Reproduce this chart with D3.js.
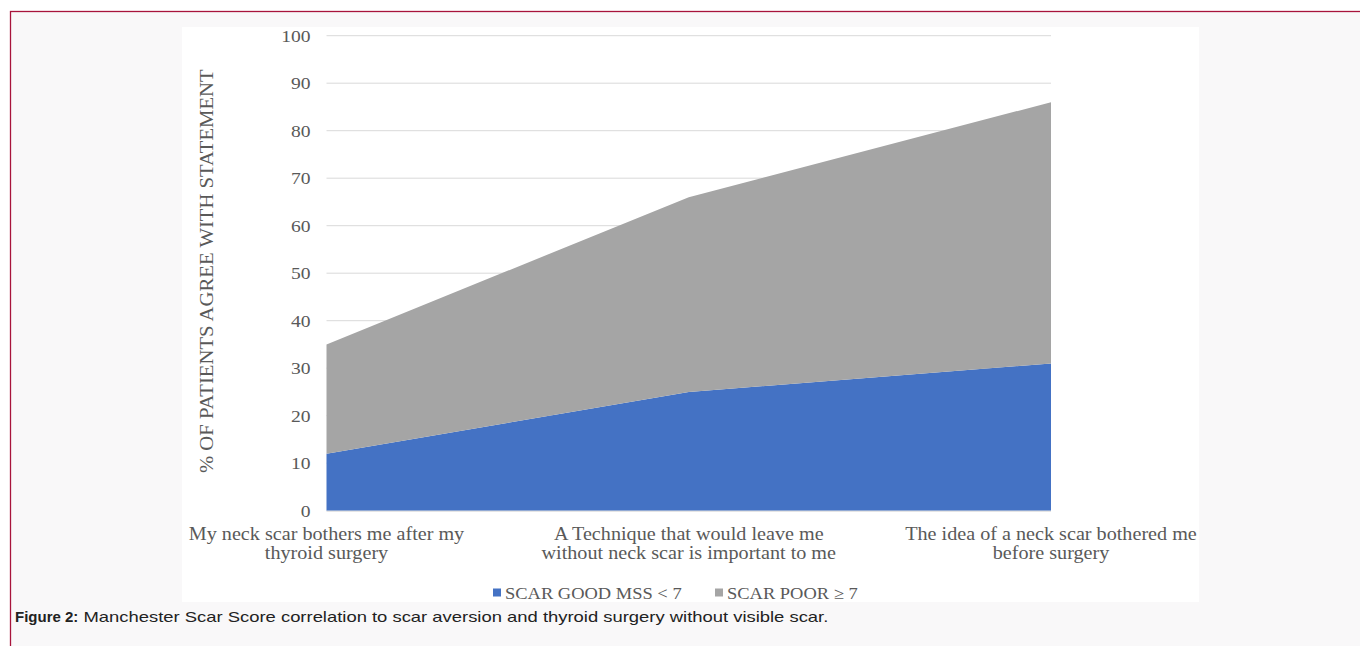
<!DOCTYPE html>
<html>
<head>
<meta charset="utf-8">
<script src="https://cdn.jsdelivr.net/npm/d3@7"></script>
<style>
  html, body { margin: 0; padding: 0; background: #ffffff; }
  svg { display: block; }
</style>
</head>
<body>
<svg id="chart" width="1360" height="646"></svg>
<script>
// Statements surveyed (x categories), split into two text lines each
const categories = [
  ["My neck scar bothers me after my", "thyroid surgery"],
  ["A Technique that would leave me", "without neck scar is important to me"],
  ["The idea of a neck scar bothered me", "before surgery"]
];
// Percentage of patients agreeing, by scar outcome (stacked)
const scarGood = [12, 25, 31];
const scarPoor = [23, 41, 55];
const seriesNames = ["SCAR GOOD MSS < 7", "SCAR POOR \u2265 7"];
const yTicks = [0, 10, 20, 30, 40, 50, 60, 70, 80, 90, 100];
const yTitle = "% OF PATIENTS AGREE WITH STATEMENT";
const captionBold = "Figure 2:";
const captionText = " Manchester Scar Score correlation to scar aversion and thyroid surgery without visible scar.";

const colors = ["#4472c4", "#a5a5a5"];
const serif = "'Liberation Serif', 'Times New Roman', serif";
const textColor = "#595959";
const widen = "scale(1.12,1)"; // the chart's serif type is set slightly wide

const svg = d3.select("#chart");

// framed panel
svg.append("rect").attr("x", 10.5).attr("y", 11.5).attr("width", 1360).attr("height", 646)
  .attr("fill", "#f9f8f9").attr("stroke", "#a8143c").attr("stroke-width", 1.3);

// white chart area
svg.append("rect").attr("x", 182).attr("y", 27).attr("width", 1017).attr("height", 575)
  .attr("fill", "#ffffff");

const idx = categories.map((d, i) => i);
const x = d3.scalePoint().domain(idx).range([326.5, 1051]);
const y = d3.scaleLinear().domain([0, 100]).range([510.7, 35.7]);

// gridlines
svg.append("g").selectAll("line").data(yTicks.filter(t => t > 0)).join("line")
  .attr("x1", 326.5).attr("x2", 1051)
  .attr("y1", d => y(d)).attr("y2", d => y(d))
  .attr("stroke", "#d9d9d9").attr("stroke-width", 1);

// stacked areas
const rows = idx.map(i => ({ i, good: scarGood[i], poor: scarPoor[i] }));
const stacked = d3.stack().keys(["good", "poor"])(rows);
const area = d3.area()
  .x(d => x(d.data.i))
  .y0(d => y(d[0]))
  .y1(d => y(d[1]));
svg.append("g").selectAll("path").data(stacked).join("path")
  .attr("d", area)
  .attr("fill", (d, k) => colors[k]);

// y axis
const yAxis = d3.axisLeft(y).tickValues(yTicks).tickSize(0).tickPadding(16);
const yg = svg.append("g").attr("transform", "translate(326.5,0)").call(yAxis);
yg.select(".domain").remove();
yg.selectAll("text")
  .attr("x", 0)
  .attr("transform", `translate(-16,0) ${widen}`)
  .attr("font-family", serif).attr("font-size", 17.5)
  .attr("fill", textColor);

// baseline
svg.append("line").attr("x1", 326.5).attr("x2", 1051)
  .attr("y1", y(0) + 0.5).attr("y2", y(0) + 0.5)
  .attr("stroke", "#d9d9d9");

// y axis title
svg.append("text")
  .attr("transform", `translate(213,${(y(0) + y(100)) / 2 - 2}) rotate(-90) ${widen}`)
  .attr("text-anchor", "middle")
  .attr("font-family", serif).attr("font-size", 18.5).attr("fill", textColor)
  .text(yTitle);

// category labels
const xl = svg.append("g").selectAll("text").data(idx).join("text")
  .attr("transform", d => `translate(${x(d)},540) ${widen}`)
  .attr("text-anchor", "middle")
  .attr("font-family", serif).attr("font-size", 18).attr("fill", textColor);
xl.selectAll("tspan").data(d => categories[d]).join("tspan")
  .attr("x", 0).attr("dy", (d, j) => j === 0 ? 0 : 19.5)
  .text(d => d);

// legend
const legendItems = [{ name: seriesNames[0], x: 493 }, { name: seriesNames[1], x: 715 }];
const lg = svg.append("g").selectAll("g").data(legendItems).join("g")
  .attr("transform", d => `translate(${d.x},593)`);
lg.append("rect").attr("x", 0).attr("y", -4.5).attr("width", 8).attr("height", 8)
  .attr("fill", (d, k) => colors[k]);
lg.append("text").attr("transform", `translate(12,5.5) ${widen}`)
  .attr("font-family", serif).attr("font-size", 16.5).attr("fill", textColor)
  .text(d => d.name);

// caption
const cap = svg.append("text").attr("x", 15).attr("y", 622)
  .attr("font-family", "'Liberation Sans', Arial, sans-serif").attr("font-size", 15)
  .attr("fill", "#222");
cap.append("tspan").attr("font-weight", "bold").text(captionBold);
cap.append("tspan").attr("textLength", 750).attr("lengthAdjust", "spacingAndGlyphs")
  .text(captionText);
</script>
</body>
</html>
